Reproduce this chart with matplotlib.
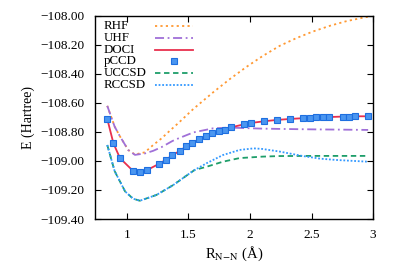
import numpy as np
import matplotlib
matplotlib.use("Agg")
import matplotlib.pyplot as plt

plt.rcParams["font.family"] = ["Liberation Serif", "DejaVu Serif"]
plt.rcParams["mathtext.fontset"] = "stix"

# ============================
#  DATA
# ============================
rhf_x = [0.84, 0.90, 0.943, 1.01, 1.065, 1.146, 1.213, 1.28, 1.35, 1.416, 1.54,
         1.70, 1.835, 1.97, 2.10, 2.24, 2.377, 2.51, 2.65, 2.78, 2.92, 2.98]
rhf_y = [-108.62, -108.763, -108.83, -108.924, -108.955, -108.94, -108.89,
         -108.845, -108.79, -108.74, -108.641, -108.527, -108.436, -108.352,
         -108.278, -108.207, -108.153, -108.108, -108.068, -108.037, -108.012, -108.003]

uhf_x = [0.84, 0.90, 0.943, 1.01, 1.065, 1.146, 1.213, 1.28, 1.37, 1.416, 1.54,
         1.70, 1.835, 2.10, 2.24, 2.50, 2.75, 2.96]
uhf_y = [-108.62, -108.763, -108.83, -108.924, -108.958, -108.948, -108.93,
         -108.905, -108.862, -108.845, -108.803, -108.775, -108.77, -108.777,
         -108.779, -108.782, -108.784, -108.786]

pccd_x = [0.84, 0.89, 0.943, 1.05, 1.106, 1.16, 1.26, 1.32, 1.37, 1.43, 1.48,
          1.53, 1.585, 1.64, 1.69, 1.745, 1.797, 1.847, 1.953, 2.008, 2.116,
          2.22, 2.328, 2.433, 2.488, 2.539, 2.593, 2.645, 2.753, 2.805, 2.856, 2.962]
pccd_y = [-108.71, -108.878, -108.98, -109.069, -109.074, -109.064, -109.02,
          -108.99, -108.96, -108.93, -108.90, -108.876, -108.85, -108.828,
          -108.81, -108.795, -108.784, -108.768, -108.747, -108.738, -108.726,
          -108.717, -108.71, -108.705, -108.703, -108.70, -108.70, -108.697,
          -108.694, -108.694, -108.692, -108.692]

doci_x = pccd_x
doci_y = pccd_y

uccsd_x = [0.84, 0.90, 0.985, 1.05, 1.105, 1.24, 1.376, 1.51, 1.55, 1.646,
           1.78, 1.915, 2.10, 2.24, 2.50, 2.96]
uccsd_y = [-108.89, -109.07, -109.21, -109.26, -109.274, -109.234, -109.166,
           -109.085, -109.062, -109.04, -109.005, -108.98, -108.97, -108.966,
           -108.965, -108.965]

rccsd_x = [0.84, 0.90, 0.985, 1.05, 1.105, 1.24, 1.376, 1.51, 1.55, 1.646,
           1.78, 1.915, 2.03, 2.10, 2.24, 2.43, 2.57, 2.70, 2.96]
rccsd_y = [-108.89, -109.07, -109.21, -109.26, -109.274, -109.234, -109.166,
           -109.085, -109.062, -109.016, -108.959, -108.924, -108.913, -108.917,
           -108.935, -108.966, -108.984, -108.993, -109.005]

x_ticks = [1, 1.5, 2, 2.5, 3]
x_ticklabels = ["1", "1.5", "2", "2.5", "3"]
y_ticks = [-108.0, -108.2, -108.4, -108.6, -108.8, -109.0, -109.2, -109.4]

# ============================
#  PLOT
# ============================
fig = plt.figure(figsize=(3.99, 2.79), dpi=100)
ax = fig.add_axes([0.238, 0.215, 0.697, 0.728])

styles = [
    ("RHF",   rhf_x,   rhf_y,   dict(color="#FF9933", lw=1.3, ls=(0, (1.2, 1.8)))),
    ("UHF",   uhf_x,   uhf_y,   dict(color="#A070D8", lw=1.3, ls=(0, (5, 2, 1, 2)))),
    ("DOCI",  doci_x,  doci_y,  dict(color="#E8304E", lw=1.3)),
    ("pCCD",  pccd_x,  pccd_y,  dict(ls="none", marker="s", ms=4.2, mfc="#4A96F0",
                                     mec="#1E6FE0", mew=0.8)),
    ("UCCSD", uccsd_x, uccsd_y, dict(color="#1E9E6A", lw=1.3, ls=(0, (3, 2)))),
    ("RCCSD", rccsd_x, rccsd_y, dict(color="#3399FF", lw=1.3, ls=(0, (1, 1)))),
]

for name, xs, ys, st in styles:
    ax.plot(xs, ys, **st)

# legend drawn by hand: text on the left, sample on the right (gnuplot style)
row_y = [0.951, 0.890, 0.833, 0.776, 0.719, 0.662]
for (name, xs, ys, st), yy in zip(styles, row_y):
    ax.text(0.032, yy, name, transform=ax.transAxes, fontsize=9.3,
            ha="left", va="center")
    if st.get("marker"):
        ax.plot([0.285], [yy], transform=ax.transAxes, **st)
    else:
        ax.plot([0.216, 0.353], [yy, yy], transform=ax.transAxes, **st)

ax.set_xlim(0.74, 3.0)
ax.set_ylim(-109.4, -108.0)
ax.set_xticks(x_ticks)
ax.set_xticklabels(x_ticklabels)
ax.set_yticks(y_ticks)
ax.set_yticklabels(["\u2212%.2f" % abs(v) for v in y_ticks])
ax.tick_params(direction="in", top=True, right=True, length=4, width=0.8,
               labelsize=9.5)
ax.tick_params(axis="y", pad=7.5)
ax.tick_params(axis="x", pad=7)
for s in ax.spines.values():
    s.set_linewidth(1.0)

ax.set_ylabel("E (Hartree)", fontsize=10, labelpad=4)
ax.set_xlabel(r"R$_{\rm N\!-\!N}$ (Å)", fontsize=10.5, labelpad=3)

plt.savefig("out.png", dpi=100)
